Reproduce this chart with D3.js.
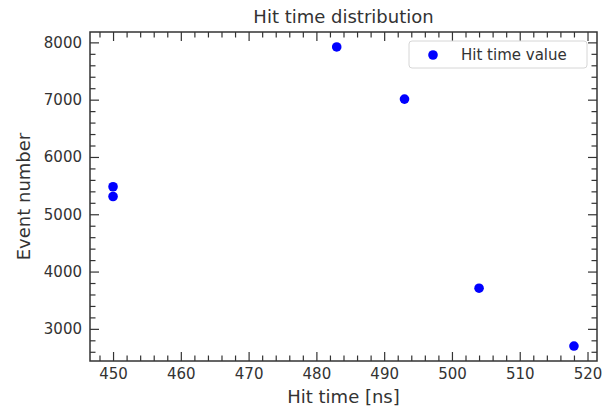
<!DOCTYPE html>
<html>
<head>
<meta charset="utf-8">
<script src="https://cdn.jsdelivr.net/npm/d3@7"></script>
<style>
  html, body { margin: 0; padding: 0; background: #fff; }
  svg text { font-family: "DejaVu Sans", sans-serif; fill: #333; }
</style>
</head>
<body>
<svg id="chart" width="612" height="409"></svg>
<script>
// Hit time (ns) and event number for each recorded hit
const hitTimes = [450, 450, 483, 493, 504, 518];
const eventNumbers = [5480, 5310, 7920, 7010, 3710, 2700];
const xTickValues = [450, 460, 470, 480, 490, 500, 510, 520];
const yTickValues = [3000, 4000, 5000, 6000, 7000, 8000];
const titleText = "Hit time distribution";
const xLabelText = "Hit time [ns]";
const yLabelText = "Event number";
const legendText = "Hit time value";

const svg = d3.select("#chart");
const plotLeft = 90, plotRight = 597, plotTop = 32, plotBottom = 361;
const ink = "#333";

// 5% padding around the data extent on both axes
function padded(vals) {
  const [lo, hi] = d3.extent(vals);
  const p = (hi - lo) * 0.05;
  return [lo - p, hi + p];
}
const x = d3.scaleLinear().domain(padded(hitTimes)).range([plotLeft, plotRight]);
const y = d3.scaleLinear().domain(padded(eventNumbers)).range([plotBottom, plotTop]);

const xMinor = d3.range(446, 522, 2).filter(v => v % 10 !== 0 && v >= x.domain()[0] && v <= x.domain()[1]);
const yMinor = d3.range(2400, 8400, 200).filter(v => v % 1000 !== 0 && v >= y.domain()[0] && v <= y.domain()[1]);

const major = 9, minor = 5.5;

function styleAxis(g) {
  g.select(".domain").remove();
  g.selectAll(".tick line").attr("stroke", ink).attr("stroke-width", 1.2);
  g.selectAll(".tick text").attr("font-size", 15).attr("fill", ink);
}

// bottom axis with inward ticks and labels
svg.append("g").attr("transform", `translate(0,${plotBottom})`)
  .call(d3.axisBottom(x).tickValues(xTickValues).tickSize(-major).tickPadding(7).tickFormat(d3.format("d")))
  .call(styleAxis);
svg.append("g").attr("transform", `translate(0,${plotBottom})`)
  .call(d3.axisBottom(x).tickValues(xMinor).tickSize(-minor).tickFormat(""))
  .call(styleAxis);
// top axis, ticks only
svg.append("g").attr("transform", `translate(0,${plotTop})`)
  .call(d3.axisTop(x).tickValues(xTickValues).tickSize(-major).tickFormat(""))
  .call(styleAxis);
svg.append("g").attr("transform", `translate(0,${plotTop})`)
  .call(d3.axisTop(x).tickValues(xMinor).tickSize(-minor).tickFormat(""))
  .call(styleAxis);
// left axis with labels
svg.append("g").attr("transform", `translate(${plotLeft},0)`)
  .call(d3.axisLeft(y).tickValues(yTickValues).tickSize(-major).tickPadding(8).tickFormat(d3.format("d")))
  .call(styleAxis);
svg.append("g").attr("transform", `translate(${plotLeft},0)`)
  .call(d3.axisLeft(y).tickValues(yMinor).tickSize(-minor).tickFormat(""))
  .call(styleAxis);
// right axis, ticks only
svg.append("g").attr("transform", `translate(${plotRight},0)`)
  .call(d3.axisRight(y).tickValues(yTickValues).tickSize(-major).tickFormat(""))
  .call(styleAxis);
svg.append("g").attr("transform", `translate(${plotRight},0)`)
  .call(d3.axisRight(y).tickValues(yMinor).tickSize(-minor).tickFormat(""))
  .call(styleAxis);

// frame
svg.append("rect")
  .attr("x", plotLeft).attr("y", plotTop)
  .attr("width", plotRight - plotLeft).attr("height", plotBottom - plotTop)
  .attr("fill", "none").attr("stroke", ink).attr("stroke-width", 1.5);

// points
svg.append("g").selectAll("circle")
  .data(hitTimes.map((t, i) => ({ t, n: eventNumbers[i] })))
  .join("circle")
  .attr("cx", d => x(d.t))
  .attr("cy", d => y(d.n))
  .attr("r", 4.8)
  .attr("fill", "#0000ff");

// title and axis labels
svg.append("text").attr("x", (plotLeft + plotRight) / 2).attr("y", 23)
  .attr("text-anchor", "middle").attr("font-size", 18).text(titleText);
svg.append("text").attr("x", (plotLeft + plotRight) / 2).attr("y", 403)
  .attr("text-anchor", "middle").attr("font-size", 18).text(xLabelText);
svg.append("text")
  .attr("transform", `translate(30,${(plotTop + plotBottom) / 2}) rotate(-90)`)
  .attr("text-anchor", "middle").attr("font-size", 18).text(yLabelText);

// legend
const lg = svg.append("g");
lg.append("rect")
  .attr("x", 409).attr("y", 41).attr("width", 178).attr("height", 27)
  .attr("rx", 3).attr("fill", "#fff").attr("fill-opacity", 0.8)
  .attr("stroke", "#d6d6d6").attr("stroke-width", 1);
lg.append("circle").attr("cx", 433).attr("cy", 55).attr("r", 4.8).attr("fill", "#0000ff");
lg.append("text").attr("x", 461).attr("y", 60).attr("font-size", 15).text(legendText);
</script>
</body>
</html>
